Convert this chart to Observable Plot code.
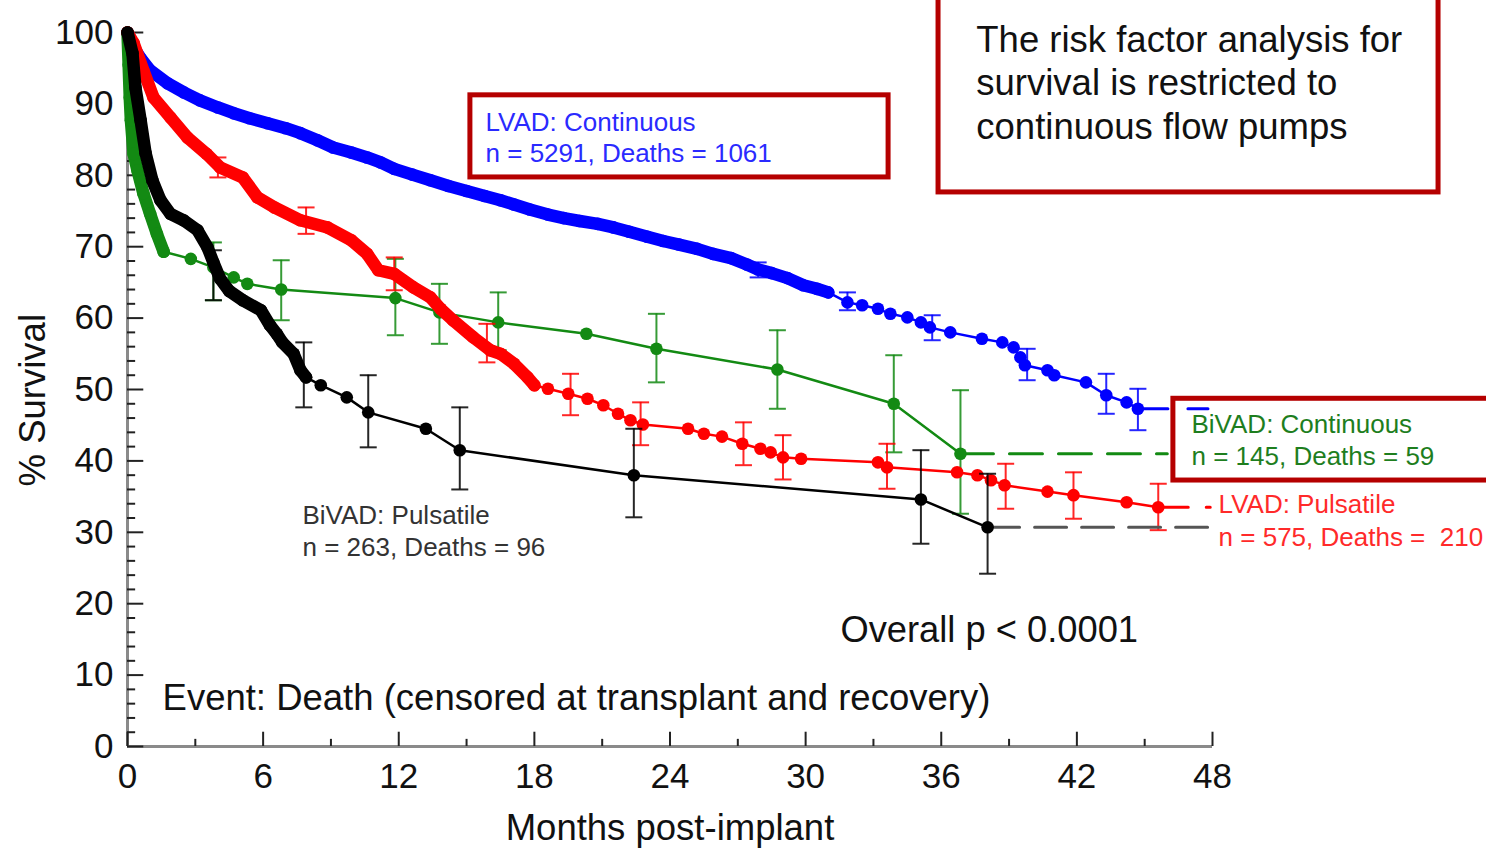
<!DOCTYPE html>
<html><head><meta charset="utf-8">
<script src="https://cdn.jsdelivr.net/npm/d3@7"></script>
<script src="https://cdn.jsdelivr.net/npm/@observablehq/plot@0.6"></script>
<style>
body{margin:0;background:#fff}
svg{font-family:"Liberation Sans",Arial,Helvetica,sans-serif}
</style>
</head><body><div id="chart"></div>
<script>
// ---------- DATA ----------
// LVAD: Continuous (blue)
const lvadContMonths = [0,0.27,0.6,1.0,1.77,2.5,3.2,4.0,4.7,5.4,6.2,7.0,7.65,8.4,9.1,9.9,10.6,11.2,11.8,12.6,13.4,14.2,15.0,15.8,16.5,17.1,17.8,18.6,19.3,20.0,20.8,21.5,22.2,23.0,23.7,24.4,25.2,25.9,26.7,27.4,27.9,28.5,29.2,29.9,30.5,31.0,31.85,32.5,33.2,33.75,34.5,35.1,35.5,36.4,37.8,38.7,39.2,39.5,39.7,40.7,41.0,42.4,43.3,44.2,44.7];
const lvadContSurv   = [100,97.9,96.3,94.7,92.9,91.6,90.5,89.5,88.7,88.0,87.3,86.6,85.9,84.9,83.9,83.2,82.5,81.8,80.9,80.1,79.3,78.5,77.8,77.1,76.5,75.9,75.2,74.5,74.0,73.6,73.2,72.7,72.1,71.4,70.8,70.3,69.7,69.0,68.4,67.5,66.8,66.3,65.6,64.6,64.1,63.6,62.2,61.8,61.3,60.6,60.1,59.4,58.7,58.0,57.1,56.6,55.9,54.5,53.4,52.7,52.0,51.0,49.2,48.2,47.3];
const lvadContErrMonths = [27.9,31.85,35.6,39.8,43.3,44.7];
const lvadContErrLo     = [65.7,61.1,56.9,51.3,46.6,44.3];
const lvadContErrHi     = [67.8,63.6,60.4,55.7,52.2,50.1];

// LVAD: Pulsatile (red)
const lvadPulsMonths = [0,0.27,0.7,1.15,1.9,2.65,3.5,4.1,5.1,5.75,6.5,7.65,8.85,9.9,10.6,11.1,11.8,12.65,13.4,13.85,14.4,15.3,16.05,16.5,17.1,17.7,18.0,18.6,19.5,20.35,21.05,21.7,22.25,22.8,24.8,25.5,26.3,27.2,28.0,28.45,29.0,29.8,33.2,33.6,36.7,37.6,38.2,38.8,40.7,41.85,44.2,45.6];
const lvadPulsSurv   = [100,98.5,94.7,90.9,88.1,85.3,83.0,81.1,79.7,76.9,75.5,73.7,72.7,70.9,69.0,66.7,66.2,64.3,62.9,61.3,59.7,57.3,55.5,55.0,53.6,51.7,50.6,50.1,49.4,48.7,47.8,46.6,45.7,45.1,44.5,43.8,43.4,42.4,41.7,41.2,40.5,40.3,39.8,39.1,38.4,38.0,37.3,36.6,35.7,35.2,34.2,33.5];
const lvadPulsErrMonths = [4.0,7.9,11.8,15.9,19.6,22.7,27.25,29.0,33.6,38.85,41.85,45.6];
const lvadPulsErrLo     = [79.7,71.8,63.9,53.8,46.4,42.2,39.4,37.4,36.1,33.3,31.9,30.3];
const lvadPulsErrHi     = [82.5,75.5,68.5,59.2,52.2,48.2,45.4,43.6,42.4,39.6,38.4,36.8];

// BiVAD: Continuous (green)
const bivadContMonths = [0,0.05,0.1,0.15,0.27,0.44,0.7,1.0,1.3,1.6,2.8,3.8,4.7,5.3,6.8,11.85,13.8,16.4,20.3,23.4,28.75,33.9,36.85];
const bivadContSurv   = [100,95.5,90.9,87.7,83.0,80.7,77.5,74.6,71.8,69.3,68.3,67.1,65.7,64.8,64.0,62.8,60.8,59.4,57.8,55.7,52.8,48.0,41.0];
const bivadContErrMonths = [3.8,6.8,11.85,13.8,16.4,23.4,28.75,33.9,36.85];
const bivadContErrLo     = [62.5,59.7,57.6,56.4,55.5,51.0,47.3,41.2,32.6];
const bivadContErrHi     = [70.6,68.1,68.3,64.8,63.6,60.6,58.3,54.8,49.9];

// BiVAD: Pulsatile (black)
const bivadPulsMonths = [0,0.22,0.35,0.58,0.8,1.1,1.46,1.9,2.48,3.1,3.54,3.8,4.1,4.5,5.1,5.9,6.3,6.6,6.85,7.35,7.65,7.9,8.55,9.7,10.65,13.2,14.7,22.4,35.1,38.05];
const bivadPulsSurv   = [100,97.1,92.3,87.7,83.1,79.3,76.5,74.6,73.7,72.3,69.9,67.8,65.5,63.8,62.5,61.1,59.0,57.8,56.6,55.0,52.7,51.7,50.6,48.9,46.8,44.5,41.5,38.0,34.6,30.7];
const bivadPulsErrMonths = [3.8,7.8,10.65,14.7,22.4,35.1,38.05];
const bivadPulsErrLo     = [62.5,47.5,41.9,36.0,32.1,28.4,24.2];
const bivadPulsErrHi     = [69.5,56.6,52.0,47.5,44.5,41.5,38.2];

// censored tails (last value carried to end of follow-up)
const tailEndMonths = {lvadCont: 47.8, lvadPuls: 47.9, bivadCont: 46.0, bivadPuls: 47.9};

// ticks
const xTickLabels = [0,6,12,18,24,30,36,42,48];
const xMinorTicks = [3,9,15,21,27,33,39,45];
const yTickLabels = [0,10,20,30,40,50,60,70,80,90,100];
const yMinorTicks = [2,4,6,8,12,14,16,18,22,24,26,28,32,34,36,38,42,44,46,48,52,54,56,58,62,64,66,68,72,74,76,78,82,84,86,88,92,94,96,98];

// text
const lvadContLabel = ["LVAD: Continuous", "n = 5291, Deaths = 1061"];
const bivadContLabel = ["BiVAD: Continuous", "n = 145, Deaths = 59"];
const lvadPulsLabel = ["LVAD: Pulsatile", "n = 575, Deaths =  210"];
const bivadPulsLabel = ["BiVAD: Pulsatile", "n = 263, Deaths = 96"];
const noteLines = ["The risk factor analysis for", "survival is restricted to", "continuous flow pumps"];
const pValueText = "Overall p < 0.0001";
const eventText = "Event: Death (censored at transplant and recovery)";
const xLabel = "Months post-implant";
const yLabel = "% Survival";

// ---------- BUILD ----------
const zip = (m, s) => m.map((x, i) => ({month: x, surv: s[i]}));
const zipErr = (m, lo, hi) => m.map((x, i) => ({month: x, lo: lo[i], hi: hi[i]}));

const series = [
  {key: "lvadCont", color: "#0000ff", pts: zip(lvadContMonths, lvadContSurv), err: zipErr(lvadContErrMonths, lvadContErrLo, lvadContErrHi), dense: 31.2, dash: "30,20", tailColor: "#0000ff"},
  {key: "bivadCont", color: "#138a13", pts: zip(bivadContMonths, bivadContSurv), err: zipErr(bivadContErrMonths, bivadContErrLo, bivadContErrHi), dense: 1.7, dash: "33,16", tailColor: "#138a13"},
  {key: "lvadPuls", color: "#ff0000", pts: zip(lvadPulsMonths, lvadPulsSurv), err: zipErr(lvadPulsErrMonths, lvadPulsErrLo, lvadPulsErrHi), dense: 18.2, dash: "30,18", tailColor: "#ff0000"},
  {key: "bivadPuls", color: "#000000", pts: zip(bivadPulsMonths, bivadPulsSurv), err: zipErr(bivadPulsErrMonths, bivadPulsErrLo, bivadPulsErrHi), dense: 8.0, dash: "32,15", tailColor: "#555555"}
];

const capSymbol = {draw(ctx, size) { const r = Math.sqrt(size / Math.PI); ctx.moveTo(-r, 0); ctx.lineTo(r, 0); }};

const marks = [];
const boxStroke = "#b50000";

// boxes (drawn under the curves)
marks.push(Plot.rect([{x1: 35.88, x2: 58.0, y1: 77.6, y2: 106}], {x1: "x1", x2: "x2", y1: "y1", y2: "y2", fill: "white", stroke: boxStroke, strokeWidth: 5}));
marks.push(Plot.rect([{x1: 15.17, x2: 33.67, y1: 79.7, y2: 91.2}], {x1: "x1", x2: "x2", y1: "y1", y2: "y2", fill: "white", stroke: boxStroke, strokeWidth: 5}));
marks.push(Plot.rect([{x1: 46.27, x2: 61, y1: 37.25, y2: 48.7}], {x1: "x1", x2: "x2", y1: "y1", y2: "y2", fill: "white", stroke: boxStroke, strokeWidth: 5}));

// axis lines and ticks
marks.push(Plot.ruleX([0], {y1: 0, y2: 100, stroke: "#8a8a8a", strokeWidth: 3}));
marks.push(Plot.ruleY([0], {x1: 0, x2: 48, stroke: "#8a8a8a", strokeWidth: 3}));
marks.push(Plot.ruleY(yTickLabels, {x1: 0, x2: 0.72, stroke: "#222", strokeWidth: 2}));
marks.push(Plot.ruleY(yMinorTicks, {x1: 0, x2: 0.36, stroke: "#222", strokeWidth: 2}));
marks.push(Plot.ruleX(xTickLabels, {y1: 0, y2: 2.0, stroke: "#222", strokeWidth: 2}));
marks.push(Plot.ruleX(xMinorTicks, {y1: 0, y2: 1.0, stroke: "#222", strokeWidth: 2}));
marks.push(Plot.axisX(xTickLabels, {tickSize: 0, tickPadding: 17, fontSize: 35, label: null, fill: "#111"}));
marks.push(Plot.axisY(yTickLabels, {tickSize: 0, tickPadding: 14, fontSize: 35, label: null, fill: "#111"}));
marks.push(Plot.text([{t: yLabel, x: -4.16, y: 48.5}], {x: "x", y: "y", text: "t", rotate: -90, fontSize: 36.5, fill: "#111"}));
marks.push(Plot.text([xLabel], {frameAnchor: "bottom", dy: 93, fontSize: 36.5, fill: "#111"}));

// curves
for (const s of series) {
  const last = s.pts[s.pts.length - 1];
  marks.push(Plot.line([last, {month: tailEndMonths[s.key], surv: last.surv}], {x: "month", y: "surv", stroke: s.tailColor, strokeWidth: 3, strokeDasharray: s.dash}));
  marks.push(Plot.ruleX(s.err, {x: "month", y1: "lo", y2: "hi", stroke: s.color, strokeWidth: 2, strokeOpacity: 0.85}));
  marks.push(Plot.dot(s.err.flatMap(d => [{month: d.month, v: d.lo}, {month: d.month, v: d.hi}]), {x: "month", y: "v", symbol: capSymbol, r: 8.5, stroke: s.color, strokeWidth: 2, fill: "none", strokeOpacity: 0.85}));
  marks.push(Plot.line(s.pts, {x: "month", y: "surv", stroke: s.color, strokeWidth: 2.5}));
  marks.push(Plot.line(s.pts.filter(d => d.month <= s.dense), {x: "month", y: "surv", stroke: s.color, strokeWidth: 12.5, strokeLinejoin: "round", strokeLinecap: "round"}));
  marks.push(Plot.dot(s.pts, {x: "month", y: "surv", r: 6.3, fill: s.color}));
}

// annotations
const txt = (lines, x, ys, opts) => Plot.text(lines.map((t, i) => ({t, x, y: ys[i]})), {x: "x", y: "y", text: "t", textAnchor: "start", ...opts});
marks.push(txt(lvadContLabel, 15.84, [87.4, 83.05], {fill: "#2a2aff", fontSize: 26}));
marks.push(txt(bivadContLabel, 47.07, [45.1, 40.6], {fill: "#1e7e1e", fontSize: 26}));
marks.push(txt(lvadPulsLabel, 48.27, [33.9, 29.3], {fill: "#ff2a2a", fontSize: 26}));
marks.push(txt(bivadPulsLabel, 7.74, [32.35, 27.9], {fill: "#333", fontSize: 26}));
marks.push(txt(noteLines, 37.55, [98.9, 92.9, 86.7], {fill: "#111", fontSize: 36.5}));
marks.push(txt([pValueText], 31.54, [16.25], {fill: "#111", fontSize: 36.3}));
marks.push(txt([eventText], 1.55, [6.7], {fill: "#111", fontSize: 36.5}));

const chart = Plot.plot({
  width: 1486, height: 850,
  marginLeft: 127, marginRight: 274, marginTop: 32, marginBottom: 104,
  x: {domain: [0, 48]},
  y: {domain: [0, 100]},
  style: {background: "white", overflow: "visible"},
  marks
});
document.getElementById("chart").appendChild(chart);
</script>
</body></html>
